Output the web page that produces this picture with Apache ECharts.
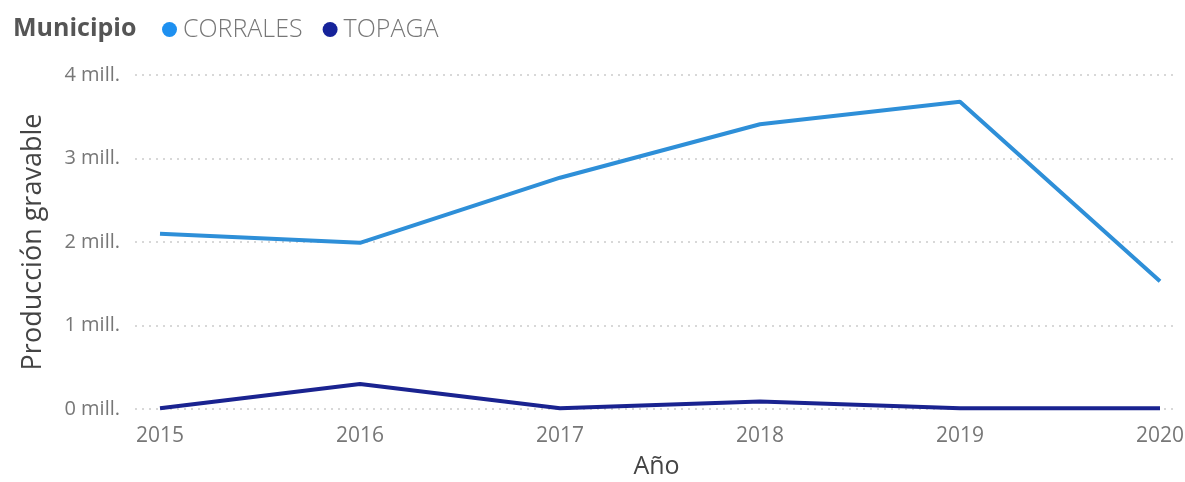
<!DOCTYPE html>
<html><head><meta charset="utf-8">
<script src="https://cdn.jsdelivr.net/npm/echarts@6/dist/echarts.min.js"></script>
<style>html,body{margin:0;padding:0;background:#fff}#c{width:1185px;height:482px}</style>
</head><body><div id="c"></div>
<script>
const years = [2015, 2016, 2017, 2018, 2019, 2020];
const corrales = [2.10, 1.99, 2.77, 3.41, 3.68, 1.53];
const topaga = [0.01, 0.30, 0.01, 0.09, 0.01, 0.01];
const yTicks = [0, 1, 2, 3, 4];
const seriesNames = ['CORRALES', 'TOPAGA'];
const lineColors = ['#2E8FD8', '#1A2390'];
const dotColors = ['#1E90F0', '#16239A'];
const font = '"Open Sans", "Noto Sans", sans-serif';

const chart = echarts.init(document.getElementById('c'));
chart.setOption({
  animation: false,
  title: {text: 'Municipio', left: 8, top: 11,
    textStyle: {fontFamily: font, fontSize: 25, fontWeight: 'bold', color: '#555'}},
  legend: {left: 157, top: 12, icon: 'circle', itemWidth: 15, itemHeight: 15, itemGap: 20,
    textStyle: {fontFamily: font, fontSize: 25, fontWeight: 300, color: '#777', padding: [0, 0, 0, 1]},
    data: seriesNames.map((n, i) => ({name: n, itemStyle: {color: dotColors[i]}}))},
  grid: {left: 135, right: 7, top: 75, bottom: 73, outerBoundsMode: 'none', containLabel: false},
  xAxis: {type: 'value', min: 2014.875, max: 2020.09,
    name: 'Año', nameLocation: 'middle', nameGap: 45,
    nameTextStyle: {fontFamily: font, fontSize: 25, color: '#444'},
    axisLine: {show: false}, axisTick: {show: false}, splitLine: {show: false},
    axisLabel: {customValues: years, margin: 17, fontFamily: font, fontSize: 21, color: '#777',
      formatter: v => String(v)}},
  yAxis: {type: 'value', min: 0, max: 4, interval: 1,
    name: 'Producción gravable', nameLocation: 'middle', nameGap: 88,
    nameTextStyle: {fontFamily: font, fontSize: 27, color: '#444'},
    axisLine: {show: false}, axisTick: {show: false},
    axisLabel: {margin: 15, fontFamily: font, fontSize: 20, color: '#777',
      formatter: v => yTicks.includes(v) ? v + ' mill.' : ''},
    splitLine: {lineStyle: {type: [2, 5], color: '#ccc', width: 1.5}}},
  series: [
    {name: seriesNames[0], type: 'line', data: years.map((y, i) => [y, corrales[i]]),
      showSymbol: false, lineStyle: {width: 4, color: lineColors[0]}, itemStyle: {color: dotColors[0]}},
    {name: seriesNames[1], type: 'line', data: years.map((y, i) => [y, topaga[i]]),
      showSymbol: false, lineStyle: {width: 4, color: lineColors[1]}, itemStyle: {color: dotColors[1]}}
  ]
});
</script></body></html>
